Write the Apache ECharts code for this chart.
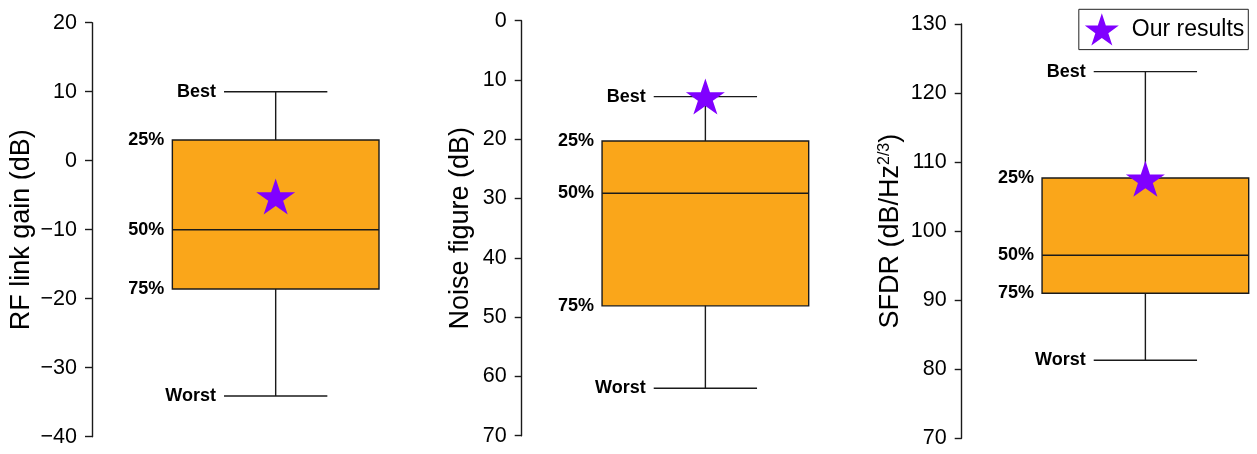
<!DOCTYPE html>
<html><head><meta charset="utf-8">
<script src="https://cdn.jsdelivr.net/npm/echarts@6/dist/echarts.min.js"></script>
<style>html,body{margin:0;padding:0;background:#fff}#c{width:1257px;height:454px}</style>
</head><body><div id="c"></div>
<script>
// ---- data ----
const statLabels = ['Best', '25%', '50%', '75%', 'Worst'];
const gainStats = [10, 3, -10, -18.6, -34.1];      // best, 25%, 50%, 75%, worst
const nfStats = [12.8, 20.3, 29.1, 48.1, 62];
const sfdrStats = [123.1, 107.7, 96.5, 91, 81.3];
const ourGain = [-5.2];
const ourNF = [12.8];
const ourSFDR = [107.6];
const gainAxis = [-40, 20, 10];   // min, max, interval
const nfAxis = [0, 70, 10];
const sfdrAxis = [70, 130, 10];
const legendName = 'Our results';

// ---- style ----
const FONT = 'Liberation Sans, Arial, sans-serif';
const ORANGE = '#FAA61A';
const PURPLE = '#8000FF';
const STAR = 'path://M50,0 L61.2,34.5 L97.6,34.5 L68.2,55.9 L79.4,90.5 L50,69.1 L20.6,90.5 L31.8,55.9 L2.4,34.5 L38.8,34.5 Z';
const BOX_L = 0.28, BOX_R = 1.0, BOX_C = 0.64, CAP_L = 0.46, CAP_R = 0.82;

function boxRender(params, api) {
  const v = [api.value(0), api.value(1), api.value(2), api.value(3), api.value(4)];
  const y = v.map(d => api.coord([0, d])[1]);
  const X = f => api.coord([f, v[0]])[0];
  const x0 = X(BOX_L), x1 = X(BOX_R), xc = X(BOX_C), c0 = X(CAP_L), c1 = X(CAP_R);
  const line = {stroke: '#1a1a1a', lineWidth: 1.4};
  const lab = (t, x, yy) => ({type: 'text', style: {text: t, x: x, y: yy, align: 'right', verticalAlign: 'middle',
      font: 'bold 18px ' + FONT, fill: '#000'}});
  const top = Math.min(y[1], y[3]), h = Math.abs(y[3] - y[1]);
  return {type: 'group', children: [
    {type: 'line', shape: {x1: xc, y1: y[0], x2: xc, y2: y[4]}, style: line},
    {type: 'line', shape: {x1: c0, y1: y[0], x2: c1, y2: y[0]}, style: line},
    {type: 'line', shape: {x1: c0, y1: y[4], x2: c1, y2: y[4]}, style: line},
    {type: 'rect', shape: {x: x0, y: top, width: x1 - x0, height: h}, style: {fill: ORANGE, stroke: '#1a1a1a', lineWidth: 1.4}},
    {type: 'line', shape: {x1: x0, y1: y[2], x2: x1, y2: y[2]}, style: line},
    lab(statLabels[0], c0 - 8, y[0]),
    lab(statLabels[1], x0 - 8, y[1]),
    lab(statLabels[2], x0 - 8, y[2]),
    lab(statLabels[3], x0 - 8, y[3]),
    lab(statLabels[4], c0 - 8, y[4])
  ]};
}

const grids = [
  {left: 92, top: 22.7, width: 287, height: 414},
  {left: 521.7, top: 20.7, width: 287, height: 415},
  {left: 961.7, top: 24, width: 287, height: 414.3}
];
const axes = [gainAxis, nfAxis, sfdrAxis];
const names = ['RF link gain (dB)', 'Noise figure (dB)', '{a|SFDR (dB/Hz}{s|2/3}{a|)}'];
const gaps = [57, 48, 58];
const stats = [gainStats, nfStats, sfdrStats];
const ours = [ourGain, ourNF, ourSFDR];

const option = {
  animation: false,
  backgroundColor: '#fff',
  grid: grids,
  legend: {
    data: [{name: legendName, icon: STAR}],
    right: 8.7, top: 9.3,
    itemWidth: 34, itemHeight: 33,
    padding: [4, 4, 4, 6],
    borderColor: '#222', borderWidth: 1,
    textStyle: {fontFamily: FONT, fontSize: 23, color: '#000', padding: [2, 0, 0, 8]}
  },
  xAxis: grids.map((g, i) => ({gridIndex: i, type: 'value', min: 0, max: 1, show: false})),
  yAxis: axes.map((a, i) => ({
    gridIndex: i, type: 'value', min: a[0], max: a[1], interval: a[2], inverse: i === 1,
    name: names[i], nameLocation: 'middle', nameGap: gaps[i], nameRotate: 90,
    nameTextStyle: {fontFamily: FONT, fontSize: 27, color: '#000',
      rich: {a: {fontFamily: FONT, fontSize: 27, color: '#000'},
             s: {fontFamily: FONT, fontSize: 16, color: '#000', verticalAlign: 'top', padding: [0, 0, 11, 0]}}},
    axisLine: {show: true, lineStyle: {color: '#1a1a1a', width: 1.4}},
    axisTick: {show: true, length: 7, lineStyle: {color: '#1a1a1a', width: 1.4}},
    axisLabel: {fontFamily: FONT, fontSize: 21.5, color: '#000', margin: 15, padding: [5, 0, 0, 0],
      formatter: v => String(v).replace('-', '\u2212')},
    splitLine: {show: false}
  })),
  series: [
    ...stats.map((s, i) => ({
      type: 'custom', xAxisIndex: i, yAxisIndex: i, renderItem: boxRender,
      data: [s], encode: {x: [], y: [0, 1, 2, 3, 4]}, silent: true, z: 2
    })),
    ...ours.map((o, i) => ({
      type: 'scatter', name: legendName, xAxisIndex: i, yAxisIndex: i,
      symbol: STAR, symbolSize: [39, 36], itemStyle: {color: PURPLE, opacity: 1},
      data: o.map(v => [BOX_C, v]), z: 5
    }))
  ]
};
echarts.init(document.getElementById('c'), null, {renderer: 'canvas'}).setOption(option);
</script></body></html>
